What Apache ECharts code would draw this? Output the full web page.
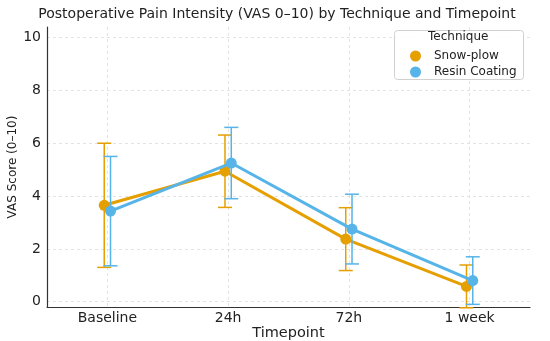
<!DOCTYPE html>
<html><head><meta charset="utf-8">
<script src="https://cdn.jsdelivr.net/npm/echarts@6/dist/echarts.min.js"></script>
<style>html,body{margin:0;padding:0;background:#fff}#c{width:550px;height:341px}</style>
</head><body><div id="c"></div>
<script>
const categories = ['Baseline', '24h', '72h', '1 week'];
const snowMean = [3.65, 4.94, 2.37, 0.58];
const snowSd = [2.35, 1.37, 1.19, 0.81];
const resinMean = [3.43, 5.25, 2.75, 0.80];
const resinSd = [2.07, 1.35, 1.32, 0.90];
const yTicks = [0, 2, 4, 6, 8, 10];
const xTicks = [0, 1, 2, 3];

const ORANGE = '#E69F00', BLUE = '#56B4E9';
const OFF = 0.026;
const FONT = 'DejaVu Sans';
const GRID = { color: '#dcdcdc', type: [3, 3], width: 0.8 };

function pts(mean, off) { return mean.map((v, i) => [i + off, v]); }
function errData(mean, sd, off) { return mean.map((v, i) => [i + off, v - sd[i], v + sd[i]]); }
function errSeries(name, mean, sd, off, color, z) {
  return {
    type: 'custom', name: name, xAxisIndex: 1, z: z, silent: true,
    color: color, itemStyle: { color: color },
    data: errData(mean, sd, off),
    encode: { x: 0, y: [1, 2] },
    renderItem: function (params, api) {
      const x = api.value(0);
      const lo = api.coord([x, api.value(1)]);
      const hi = api.coord([x, api.value(2)]);
      const w = 7;
      const st = { stroke: color, lineWidth: 1.5 };
      return { type: 'group', children: [
        { type: 'line', shape: { x1: lo[0], y1: lo[1], x2: hi[0], y2: hi[1] }, style: st },
        { type: 'line', shape: { x1: lo[0] - w, y1: lo[1], x2: lo[0] + w, y2: lo[1] }, style: st },
        { type: 'line', shape: { x1: hi[0] - w, y1: hi[1], x2: hi[0] + w, y2: hi[1] }, style: st }
      ]};
    }
  };
}

const chart = echarts.init(document.getElementById('c'), null, { renderer: 'canvas' });
chart.setOption({
  animation: false,
  textStyle: { fontFamily: FONT },
  title: {
    text: 'Postoperative Pain Intensity (VAS 0–10) by Technique and Timepoint',
    left: 272, top: 2, textAlign: 'center',
    textStyle: { fontFamily: FONT, fontSize: 14, fontWeight: 'normal', color: '#222' }
  },
  grid: { left: 47, right: 20, top: 27, bottom: 34, outerBoundsMode: 'none', containLabel: false },
  xAxis: [{
    type: 'category', data: categories, boundaryGap: true,
    name: 'Timepoint', nameLocation: 'middle', nameGap: 19, nameMoveOverlap: false,
    nameTextStyle: { fontFamily: FONT, fontSize: 14.5, color: '#222' },
    axisLine: { onZero: false, lineStyle: { color: '#333', width: 1.2 } },
    axisTick: { alignWithLabel: true, length: 3, lineStyle: { color: '#333' } },
    axisLabel: { fontFamily: FONT, fontSize: 14, color: '#222', margin: 4 },
    splitLine: { show: false }
  }, {
    type: 'value', min: -0.5, max: 3.5, position: 'bottom',
    axisLine: { show: false, onZero: false }, axisTick: { show: false, customValues: xTicks },
    axisLabel: { show: false, customValues: xTicks },
    splitLine: { show: true, lineStyle: GRID }
  }],
  yAxis: {
    type: 'value', min: -0.2, max: 10.4,
    name: 'VAS Score (0–10)', nameLocation: 'middle', nameGap: 28, nameMoveOverlap: false,
    nameTextStyle: { fontFamily: FONT, fontSize: 12, color: '#222' },
    axisLine: { show: true, onZero: false, lineStyle: { color: '#333', width: 1.2 } },
    axisTick: { show: false, customValues: yTicks },
    axisLabel: { fontFamily: FONT, fontSize: 14, color: '#222', margin: 6, customValues: yTicks },
    splitLine: { show: true, lineStyle: GRID }
  },
  legend: {
    orient: 'vertical', left: 405, top: 45, itemGap: 4, z: 20,
    icon: 'circle', itemWidth: 11, itemHeight: 11,
    textStyle: { fontFamily: FONT, fontSize: 12, color: '#222', padding: [0, 0, 0, 8] },
    data: ['Snow-plow', 'Resin Coating']
  },
  graphic: [
    { type: 'rect', left: 394, top: 30, z: 1,
      shape: { width: 129, height: 49, r: 3 },
      style: { fill: 'rgba(255,255,255,0.9)', stroke: '#d0d0d0', lineWidth: 1 } },
    { type: 'text', left: 428, top: 31, z: 21,
      style: { text: 'Technique', fontFamily: FONT, fontSize: 12, fill: '#222' } }
  ],
  series: [
    errSeries('Snow-plow', snowMean, snowSd, -OFF, ORANGE, 2),
    { type: 'line', name: 'Snow-plow', xAxisIndex: 1, data: pts(snowMean, -OFF), z: 3,
      symbol: 'circle', symbolSize: 11, color: ORANGE,
      lineStyle: { width: 3, color: ORANGE }, itemStyle: { color: ORANGE } },
    errSeries('Resin Coating', resinMean, resinSd, OFF, BLUE, 4),
    { type: 'line', name: 'Resin Coating', xAxisIndex: 1, data: pts(resinMean, OFF), z: 5,
      symbol: 'circle', symbolSize: 11, color: BLUE,
      lineStyle: { width: 3, color: BLUE }, itemStyle: { color: BLUE } }
  ]
});
</script></body></html>
